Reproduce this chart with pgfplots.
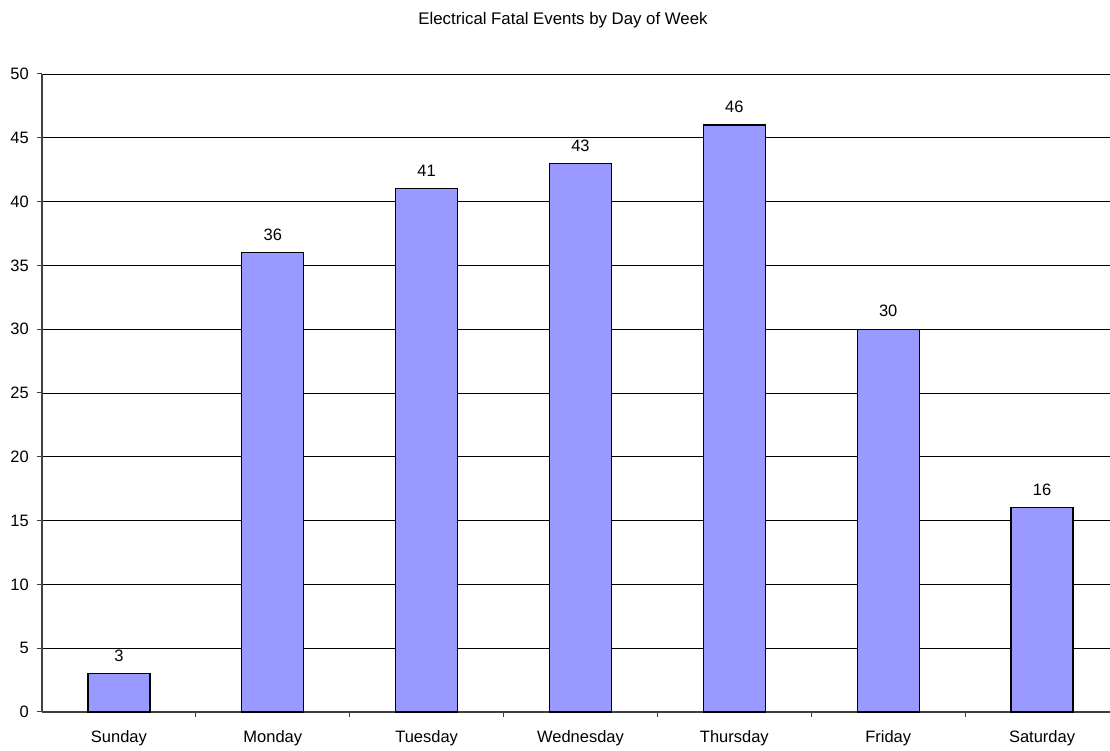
\documentclass[border=0pt]{standalone}
\usepackage{pgfplots}
\pgfplotsset{compat=1.18}
\usepackage{fontspec}
\setmainfont{Liberation Sans}
\definecolor{barfill}{HTML}{9999FF}
\definecolor{axisgray}{HTML}{404040}
\newcommand{\chartfont}{\fontsize{16.5}{19}\selectfont}
\begin{document}
\begin{tikzpicture}[x=1pt,y=1pt]
\path[use as bounding box] (0,0) rectangle (1110,751);
\node[font=\fontsize{16.8}{19}\selectfont] at (563,731) {Electrical Fatal Events by Day of Week};
\begin{axis}[
  at={(42pt,39pt)}, anchor=south west,
  scale only axis, width=1077pt, height=638pt,
  xmin=-0.5, xmax=6.5, ymin=0, ymax=50,
  axis lines*=left,
  axis line style={axisgray, line width=1.2pt},
  ytick={0,5,...,50},
  xtick={0,...,6},
  xticklabels={Sunday,Monday,Tuesday,Wednesday,Thursday,Friday,Saturday},
  minor xtick={0.5,1.5,...,5.5},
  major x tick style={draw=none},
  minor x tick style={axisgray, line width=1pt},
  major y tick style={axisgray, line width=1pt},
  tick align=outside,
  major tick length=5pt, minor tick length=5pt,
  ymajorgrids, grid style={black, line width=0.9pt},
  tick label style={font=\chartfont},
  /pgf/number format/assume math mode=true,
  yticklabel style={anchor=east, inner sep=0pt, xshift=-8pt},
  xticklabel style={anchor=north, inner sep=0pt, yshift=-13pt},
  ybar, bar width=62pt,
  nodes near coords,
  every node near coord/.append style={font=\chartfont, anchor=south, inner sep=0pt, yshift=11.5pt},
  clip=false,
]
\addplot[fill=barfill, draw=black, line width=1.2pt] coordinates {
  (0,3) (1,36) (2,41) (3,43) (4,46) (5,30) (6,16)
};
\end{axis}
\end{tikzpicture}
\end{document}
